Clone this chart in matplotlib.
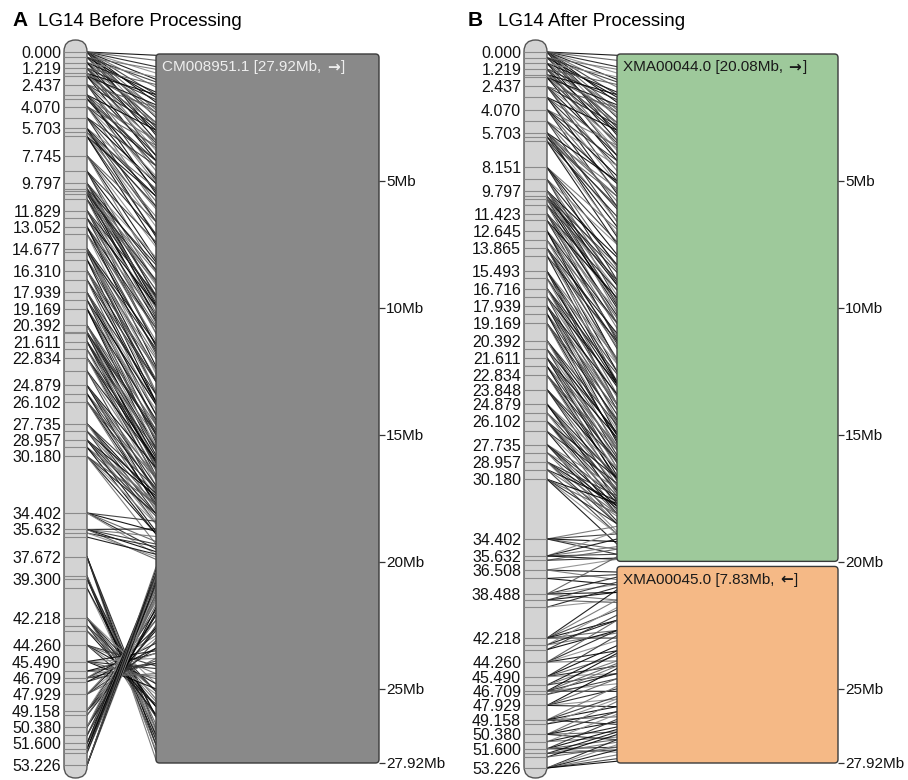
"""
LG14 linkage map vs. assembly, before and after processing.
Output: out.png
"""

import numpy as np
import matplotlib
matplotlib.use("Agg")
import matplotlib.pyplot as plt
from matplotlib.patches import FancyBboxPatch, ConnectionPatch
from matplotlib.offsetbox import TextArea, HPacker, AnnotationBbox

plt.rcParams["font.family"] = ["Liberation Sans", "DejaVu Sans"]

# ── Map positions shown as labels (cM) ───────────────────────────────────────
label_cm_a = [0.000, 1.219, 2.437, 4.070, 5.703, 7.745, 9.797, 11.829, 13.052,
              14.677, 16.310, 17.939, 19.169, 20.392, 21.611, 22.834, 24.879,
              26.102, 27.735, 28.957, 30.180, 34.402, 35.632, 37.672, 39.300,
              42.218, 44.260, 45.490, 46.709, 47.929, 49.158, 50.380, 51.600,
              53.226]
label_cm_b = [0.000, 1.219, 2.437, 4.070, 5.703, 8.151, 9.797, 11.423, 12.645,
              13.865, 15.493, 16.716, 17.939, 19.169, 20.392, 21.611, 22.834,
              23.848, 24.879, 26.102, 27.735, 28.957, 30.180, 34.402, 35.632,
              36.508, 38.488, 42.218, 44.260, 45.490, 46.709, 47.929, 49.158,
              50.380, 51.600, 53.226]

# unlabelled markers drawn on the bar
extra_cm_a = [0.4, 0.8, 1.6, 1.8, 3.2, 3.5, 4.9, 6.0, 6.3, 8.9, 10.2, 10.4,
              10.6, 11.0, 12.4, 13.6, 14.9, 15.5, 17.0, 18.5, 20.9, 21.0, 22.2,
              23.8, 25.5, 28.3, 29.5, 35.9, 36.2, 39.1, 40.0, 42.8, 43.2, 46.2,
              47.0, 49.5, 51.0, 52.0, 52.3]
extra_cm_b = [0.4, 0.8, 1.6, 1.8, 3.2, 4.9, 6.0, 6.3, 9.0, 10.2, 10.4, 10.8,
              11.9, 13.3, 14.4, 16.0, 17.3, 18.5, 21.0, 22.2, 25.5, 26.8, 28.3,
              29.5, 35.9, 37.2, 39.0, 39.6, 42.8, 43.2, 46.2, 47.0, 49.5, 51.0,
              52.0, 52.3]

# ── Marker -> physical hits (Mb) ─────────────────────────────────────────────
groups_cm_a = [0.000, 0.4, 0.8, 1.219, 1.6, 1.8, 2.437, 3.2, 3.5, 4.070, 4.9,
               5.703, 6.0, 6.3, 7.745, 8.9, 9.797, 10.2, 10.4, 10.6, 11.0,
               11.829, 12.4, 13.052, 13.6, 14.677, 14.9, 15.5, 16.310, 17.0,
               17.939, 18.5, 19.169, 20.392, 20.9, 21.0, 21.611, 22.2, 22.834,
               23.8, 24.879, 25.5, 26.102, 27.735, 28.3, 28.957, 29.5, 30.180,
               34.402, 35.632, 35.9, 36.2,
               37.672, 39.1, 39.300, 40.0, 42.218, 42.8, 43.2, 44.260, 45.490,
               46.2, 46.709, 47.0, 47.929, 49.158, 49.5, 50.380, 51.0, 51.600,
               52.0, 52.3, 53.226]
groups_mb_a = [
    [0.05, 0.25, 0.5, 0.75, 1.0, 1.3, 1.6, 1.9, 2.2, 2.5, 2.8, 3.2],
    [0.6, 1.1, 1.7, 2.3, 2.9],
    [0.9, 1.5, 2.1, 2.7, 3.4],
    [1.2, 1.8, 2.4, 3.0, 3.6, 4.0],
    [1.6, 2.3, 3.1, 3.8],
    [2.0, 2.7, 3.5, 4.2],
    [2.1, 2.8, 3.4, 4.0, 4.6, 5.0],
    [3.0, 3.7, 4.4, 5.1, 5.5],
    [3.4, 4.2, 4.9],
    [3.6, 4.2, 4.8, 5.4, 6.0],
    [4.4, 5.1, 5.8, 6.6],
    [5.0, 5.6, 6.1, 6.6, 7.2],
    [5.3, 6.0, 6.8],
    [5.6, 6.4, 7.1, 7.5],
    [6.6, 7.1, 7.6, 8.1, 8.6],
    [7.4, 8.2, 9.0, 9.6],
    [8.0, 8.5, 9.0, 9.5, 9.9, 10.2],
    [8.3, 9.1, 9.8],
    [8.6, 9.3, 10.0, 10.6],
    [8.9, 9.7, 10.4],
    [9.0, 9.6, 10.3, 11.0],
    [9.5, 10.0, 10.5, 11.0, 11.5],
    [9.9, 10.7, 11.5],
    [10.3, 10.8, 11.3, 11.8, 12.3],
    [10.8, 11.7, 12.6],
    [11.4, 11.9, 12.4, 12.9, 13.3],
    [11.6, 12.5, 13.4],
    [12.0, 12.8, 13.7],
    [12.4, 12.9, 13.3, 13.8, 14.2],
    [12.9, 13.7, 14.6],
    [13.4, 13.8, 14.2, 14.6, 15.0],
    [13.8, 14.5, 15.3],
    [14.0, 14.4, 14.8, 15.2, 15.6],
    [14.6, 15.0, 15.4, 15.8, 16.1],
    [14.8, 15.5, 16.2],
    [14.9, 15.6, 16.3],
    [15.1, 15.5, 15.9, 16.3, 16.6],
    [15.4, 16.1, 16.8],
    [15.6, 16.0, 16.4, 16.7, 17.0],
    [16.0, 16.6, 17.3],
    [16.3, 16.7, 17.0, 17.3, 17.6],
    [16.6, 17.2, 17.8],
    [16.7, 17.1, 17.4, 17.7, 18.0],
    [17.1, 17.5, 17.8, 18.1, 18.4],
    [17.3, 17.9, 18.5],
    [17.4, 17.8, 18.1, 18.5, 18.8],
    [17.6, 18.2, 18.9],
    [17.7, 18.1, 18.5, 18.9, 19.3],
    [18.4, 18.8, 19.2, 19.5, 19.7],
    [18.7, 19.0, 19.3, 19.6, 19.9],
    [19.4, 19.8],
    [19.7],
    [27.8, 27.5, 27.2, 26.9, 26.6],
    [27.4, 27.0, 26.6],
    [27.2, 26.8, 26.4, 26.1],
    [26.7, 26.1],
    [26.5, 26.1, 25.7, 25.4, 25.1, 24.8],
    [26.0, 25.5, 25.1],
    [25.7, 25.1],
    [25.6, 25.2, 24.8, 24.4, 24.1],
    [25.0, 24.6, 24.2, 23.8, 23.5],
    [24.5, 24.0, 23.6],
    [24.4, 24.0, 23.6, 23.2, 22.9],
    [23.9, 23.4],
    [23.8, 23.4, 23.0, 22.6, 22.3],
    [23.1, 22.7, 22.3, 21.9, 21.6],
    [22.6, 22.1],
    [22.5, 22.1, 21.7, 21.3, 21.0],
    [22.0, 21.5, 21.1],
    [21.8, 21.4, 21.0, 20.7, 20.5],
    [21.3, 20.9, 20.6],
    [21.2, 20.7],
    [21.0, 20.8, 20.6, 20.45, 20.3, 20.2],
]

groups_cm_b = [0.000, 0.4, 0.8, 1.219, 1.6, 1.8, 2.437, 3.2, 4.070, 4.9, 5.703,
               6.0, 6.3, 8.151, 9.0, 9.797, 10.2, 10.4, 10.8, 11.423, 11.9,
               12.645, 13.3, 13.865, 14.4, 15.493, 16.0, 16.716, 17.3, 17.939,
               18.5, 19.169, 20.392, 21.0, 21.611, 22.2, 22.834, 23.848, 24.879,
               25.5, 26.102, 26.8, 27.735, 28.3, 28.957, 29.5, 30.180, 34.402,
               35.632, 35.9, 36.508, 37.2, 38.488, 39.0, 39.6, 42.218, 42.8,
               43.2, 44.260, 45.490, 46.2, 46.709, 47.0, 47.929, 49.158, 49.5,
               50.380, 51.0, 51.600, 52.0, 52.3, 53.226]
groups_mb_b = [
    [0.05, 0.25, 0.5, 0.75, 1.0, 1.3, 1.6, 1.9, 2.2, 2.5, 2.8, 3.2],
    [0.6, 1.1, 1.7, 2.3, 2.9],
    [0.9, 1.5, 2.1, 2.7, 3.4],
    [1.2, 1.8, 2.4, 3.0, 3.6, 4.0],
    [1.6, 2.3, 3.1, 3.8],
    [2.0, 2.7, 3.5, 4.2],
    [2.1, 2.8, 3.4, 4.0, 4.6, 5.0],
    [3.0, 3.7, 4.4, 5.1, 5.5],
    [3.6, 4.2, 4.8, 5.4, 6.0],
    [4.4, 5.1, 5.8, 6.6],
    [5.0, 5.6, 6.1, 6.6, 7.2],
    [5.3, 6.0, 6.8],
    [5.6, 6.4, 7.1, 7.5],
    [6.9, 7.4, 7.9, 8.4, 8.9],
    [7.5, 8.3, 9.1, 9.7],
    [8.0, 8.5, 9.0, 9.5, 9.9, 10.2],
    [8.3, 9.1, 9.8],
    [8.6, 9.3, 10.0, 10.6],
    [8.9, 9.8, 10.6],
    [9.3, 9.8, 10.3, 10.8, 11.3],
    [9.6, 10.4, 11.2],
    [10.1, 10.6, 11.1, 11.6, 12.1],
    [10.6, 11.4, 12.2],
    [11.0, 11.5, 12.0, 12.5, 12.9],
    [11.3, 12.1, 13.0],
    [12.0, 12.5, 12.9, 13.4, 13.8],
    [12.2, 13.0, 13.8],
    [12.6, 13.1, 13.5, 14.0, 14.4],
    [13.0, 13.8, 14.7],
    [13.4, 13.8, 14.2, 14.6, 15.0],
    [13.8, 14.5, 15.3],
    [14.0, 14.4, 14.8, 15.2, 15.6],
    [14.6, 15.0, 15.4, 15.8, 16.1],
    [14.9, 15.6, 16.3],
    [15.1, 15.5, 15.9, 16.3, 16.6],
    [15.4, 16.1, 16.8],
    [15.6, 16.0, 16.4, 16.7, 17.0],
    [16.0, 16.4, 16.8, 17.2],
    [16.3, 16.7, 17.0, 17.3, 17.6],
    [16.6, 17.2, 17.8],
    [16.7, 17.1, 17.4, 17.7, 18.0],
    [16.9, 17.5, 18.1],
    [17.1, 17.5, 17.8, 18.1, 18.4],
    [17.3, 17.9, 18.5],
    [17.4, 17.8, 18.1, 18.5, 18.8],
    [17.6, 18.2, 18.9],
    [17.7, 18.1, 18.5, 18.9, 19.3],
    [18.6, 18.9, 19.2, 19.5, 19.7],
    [18.8, 19.1, 19.4, 19.7, 19.9],
    [19.5, 19.85],
    [19.9, 20.4, 20.7],
    [20.5, 20.9],
    [19.8, 20.6, 20.9, 21.2, 21.5],
    [20.8, 21.2, 21.6],
    [21.0, 21.5],
    [21.1, 21.5, 21.9, 22.3, 22.7, 23.0],
    [21.8, 22.3, 22.8],
    [22.1, 22.7],
    [22.3, 22.7, 23.1, 23.5, 23.9],
    [22.9, 23.3, 23.7, 24.1, 24.4],
    [23.5, 23.9, 24.4],
    [23.6, 24.0, 24.4, 24.8, 25.1],
    [24.1, 24.6],
    [24.2, 24.6, 25.0, 25.4, 25.7],
    [24.9, 25.3, 25.7, 26.1, 26.4],
    [25.4, 25.9],
    [25.5, 25.9, 26.3, 26.7, 27.0],
    [26.0, 26.5, 26.9],
    [26.2, 26.6, 27.0, 27.3, 27.5],
    [26.7, 27.1, 27.4],
    [26.8, 27.3],
    [27.0, 27.2, 27.4, 27.6, 27.75, 27.85],
]

# ── Contigs ──────────────────────────────────────────────────────────────────
contig_names_a = ["CM008951.1"]
contig_len_a = [27.92]
contig_dir_a = ["\u2192"]
contig_names_b = ["XMA00044.0", "XMA00045.0"]
contig_len_b = [20.08, 7.83]
contig_dir_b = ["\u2192", "\u2190"]
total_mb = 27.92
mb_ticks = [5, 10, 15, 20, 25, 27.92]

# ── Layout (pixels) ──────────────────────────────────────────────────────────
W, H = 908, 780
fig = plt.figure(figsize=(W / 100, H / 100), dpi=100)
PX_PER_CM = 13.4
BAR_TOP, BAR_BOT, CM0_Y = 40, 778, 52
BOX_TOP, BOX_BOT = 54, 763
SHADES = ["#000000", "#5a5a5a", "#1e1e1e", "#8c8c8c", "#0c0c0c", "#707070", "#333333"]


def px_axes(x0, y0, x1, y1):
    return fig.add_axes([x0 / W, 1 - y1 / H, (x1 - x0) / W, (y1 - y0) / H])


def draw_bar(ax, tick_cm, label_cm):
    w_px, h_px = ax.bbox.width, ax.bbox.height
    ax.set_xlim(0, 1)
    ax.add_patch(FancyBboxPatch((0, 0), 1, 1, boxstyle="round,pad=0,rounding_size=0.5",
                                mutation_aspect=w_px / h_px, transform=ax.transAxes,
                                fc="#d3d3d3", ec="#555555", lw=1.0, clip_on=False, zorder=1))
    ax.hlines(tick_cm, 0.0, 1.0, colors="#8a8a8a", lw=0.8, zorder=2)
    ax.set_yticks(label_cm)
    ax.set_yticklabels([f"{v:.3f}" for v in label_cm])
    ax.tick_params(axis="y", length=0, pad=2, labelsize=11.5, labelcolor="#111111")
    ax.set_xticks([])
    for s in ax.spines.values():
        s.set_visible(False)
    ax.patch.set_visible(False)


def contig_label(ax, name, length, arrow, y, color):
    props = dict(fontsize=11, color=color)
    head = TextArea(f"{name} [{length:.2f}Mb,", textprops=props)
    tail = HPacker(children=[TextArea(arrow, textprops=dict(props, family="DejaVu Sans",
                                                            fontweight="bold")),
                             TextArea("]", textprops=props)],
                   align="baseline", pad=0, sep=1)
    pack = HPacker(children=[head, tail], align="baseline", pad=0, sep=4)
    ab = AnnotationBbox(pack, xy=(0, y), xycoords="data", xybox=(6, -13),
                        boxcoords="offset pixels", box_alignment=(0, 0.5),
                        frameon=False, pad=0)
    ax.add_artist(ab)


def draw_contigs(ax, names, lengths, dirs, colors, text_color):
    ax.set_xlim(0, 1)
    ax.set_ylim(total_mb, 0)
    aspect = ax.bbox.width / (ax.bbox.height / total_mb)
    gap = 0.1
    start = 0.0
    for name, ln, d, c in zip(names, lengths, dirs, colors):
        end = min(start + ln, total_mb)
        top = start + gap if start > 0 else start
        bot = end - gap if end < total_mb - 0.02 else total_mb
        ax.add_patch(FancyBboxPatch((0, top), 1, bot - top,
                                    boxstyle="round,pad=0,rounding_size=0.016",
                                    mutation_aspect=aspect, fc=c, ec="#3a3a3a",
                                    lw=1.0, clip_on=False))
        contig_label(ax, name, ln, d, top, text_color)
        start = end
    ax.yaxis.tick_right()
    ax.set_yticks(mb_ticks)
    ax.set_yticklabels([f"{t:g}Mb" for t in mb_ticks])
    ax.tick_params(axis="y", length=4, width=0.9, color="#333333", pad=1,
                   labelsize=11, labelcolor="#111111")
    ax.set_xticks([])
    for s in ax.spines.values():
        s.set_visible(False)
    ax.patch.set_visible(False)


def draw_links(ax_bar, ax_box, groups_cm, groups_mb):
    assert len(groups_cm) == len(groups_mb)
    k = 0
    for c, mbs in zip(groups_cm, groups_mb):
        for m in mbs:
            con = ConnectionPatch(xyA=(1, c), coordsA="data", axesA=ax_bar,
                                  xyB=(0, m), coordsB="data", axesB=ax_box,
                                  color=SHADES[k % len(SHADES)], lw=0.8, alpha=0.9,
                                  zorder=0)
            fig.add_artist(con)
            k += 1


def cm_limits():
    top = (BAR_TOP - CM0_Y) / PX_PER_CM
    bot = (BAR_BOT - CM0_Y) / PX_PER_CM
    return top, bot


# ── Panel A ──────────────────────────────────────────────────────────────────
ax_bar_a = px_axes(64, BAR_TOP, 87, BAR_BOT)
top, bot = cm_limits()
ax_bar_a.set_ylim(bot, top)
draw_bar(ax_bar_a, label_cm_a + extra_cm_a, label_cm_a)

ax_box_a = px_axes(156, BOX_TOP, 379, BOX_BOT)
draw_contigs(ax_box_a, contig_names_a, contig_len_a, contig_dir_a, ["#898989"], "#eeeeee")
draw_links(ax_bar_a, ax_box_a, groups_cm_a, groups_mb_a)

# ── Panel B (its map is drawn on a piecewise scale) ─────────────────────────
knots_cm = [-5.0, 0.0, 34.402, 35.632, 36.508, 38.488, 53.226, 60.0]
knots_disp = [-5.27, 0.0, 36.34, 37.61, 38.66, 40.45, 53.43, 59.40]


def fwd(v):
    return np.interp(v, knots_cm, knots_disp)


def inv(v):
    return np.interp(v, knots_disp, knots_cm)


ax_bar_b = px_axes(524, BAR_TOP, 547, BAR_BOT)
ax_bar_b.set_yscale("function", functions=(fwd, inv))
top, bot = cm_limits()
ax_bar_b.set_ylim(inv(bot), inv(top))
draw_bar(ax_bar_b, label_cm_b + extra_cm_b, label_cm_b)

ax_box_b = px_axes(617, BOX_TOP, 838, BOX_BOT)
draw_contigs(ax_box_b, contig_names_b, contig_len_b, contig_dir_b,
             ["#9ec99b", "#f5b986"], "#1a1a1a")
draw_links(ax_bar_b, ax_box_b, groups_cm_b, groups_mb_b)

# ── Titles ───────────────────────────────────────────────────────────────────
fig.text(12 / W, 1 - 26.5 / H, "A", fontsize=15, fontweight="bold", va="baseline")
fig.text(38 / W, 1 - 26.5 / H, "LG14 Before Processing", fontsize=13.5, va="baseline")
fig.text(468 / W, 1 - 26.5 / H, "B", fontsize=15, fontweight="bold", va="baseline")
fig.text(498 / W, 1 - 26.5 / H, "LG14 After Processing", fontsize=13.5, va="baseline")

fig.savefig("out.png", dpi=100)
plt.close()
